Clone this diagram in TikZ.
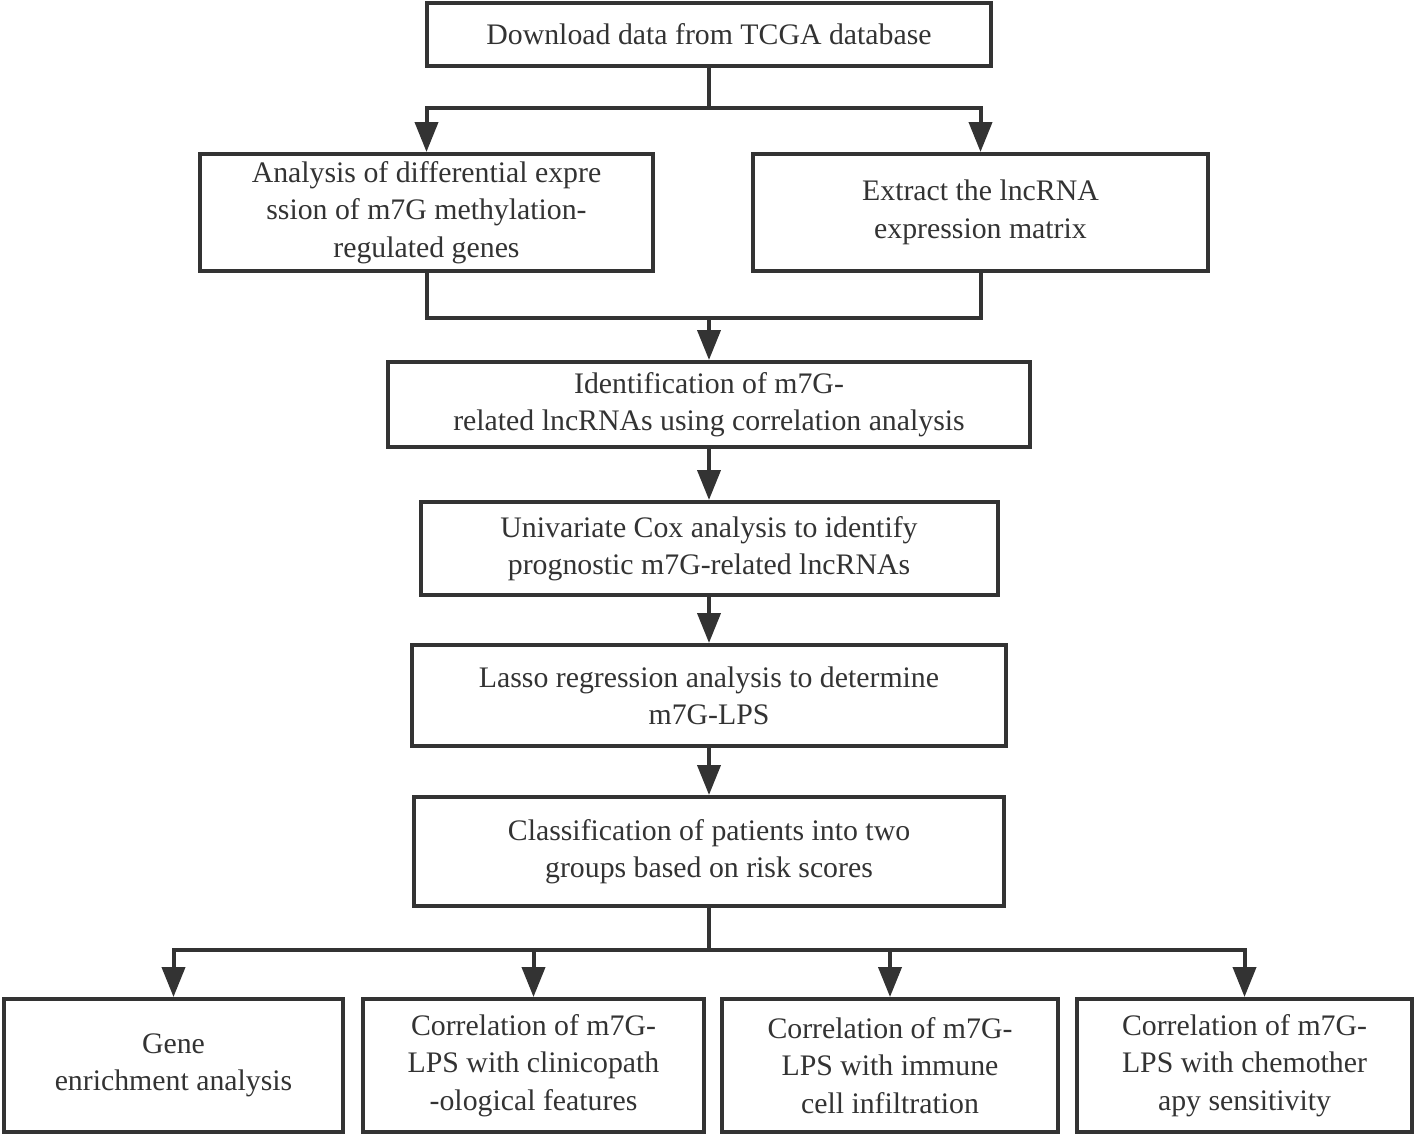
\documentclass[tikz,border=0pt]{standalone}
\usepackage{fontspec}
\setmainfont{Liberation Serif}
\usetikzlibrary{arrows.meta}
\definecolor{trait}{RGB}{51,51,51}

\begin{document}
\begin{tikzpicture}[
    x=0.5pt, y=-0.5pt,
    text = trait,
    process/.style={draw=trait, line width=2pt, align=center, font=\fontsize{14.9}{18.7}\selectfont, inner sep=0pt},
    flow/.style={draw=trait, line width=2pt},
    arrow/.style={flow, -{Triangle[length=15pt, width=11.5pt]}}
    ]

   \useasboundingbox (0,0) rectangle (1416,1136);

   \node [process, minimum width=282pt, minimum height=31.5pt] (tcga) at (709,34.5) {Download data from TCGA database};
   \node [process, minimum width=226.5pt, minimum height=58.5pt] (diff) at (426.5,212.5) {Analysis of differential expre\\ ssion of m7G methylation-\\ regulated genes};
   \node [process, minimum width=227.5pt, minimum height=58.5pt] (matrix) at (980.5,212.5) {Extract the lncRNA\\ expression matrix};
   \node [process, minimum width=321pt, minimum height=42.5pt] (corr) at (709,404.5) {Identification of m7G-\\ related lncRNAs using correlation analysis};
   \node [process, minimum width=288.5pt, minimum height=46.5pt] (cox) at (709,548.5) {Univariate Cox analysis to identify\\ prognostic m7G-related lncRNAs};
   \node [process, minimum width=297pt, minimum height=50.5pt] (lasso) at (709,695.5) {Lasso regression analysis to determine\\ m7G-LPS};
   \node [process, minimum width=295pt, minimum height=54.5pt] (risk) at (709,851.5) {Classification of patients into two\\ groups based on risk scores};

   % bottom row
   \node [process, minimum width=169.5pt, minimum height=66.5pt] (gene) at (173.5,1065.5) {Gene\\ enrichment analysis};
   \node [process, minimum width=170.5pt, minimum height=66.5pt] (clin) at (533.5,1065.5) {Correlation of m7G-\\ LPS with clinicopath\\ -ological features};
   \node [process, minimum width=168pt, minimum height=66.5pt] (immune) at (890,1065.5) {Correlation of m7G-\\ LPS with immune\\ cell infiltration};
   \node [process, minimum width=167.5pt, minimum height=66.5pt] (chemo) at (1244.5,1065.5) {Correlation of m7G-\\ LPS with chemother\\ apy sensitivity};

   \coordinate (split) at (709,108);
   \coordinate (merge) at (709,318);
   \coordinate (fan) at (709,950);

   \draw [flow] (tcga.south) -- (split);
   \draw [arrow] (split) -| (diff.north);
   \draw [arrow] (split) -| (matrix.north);
   \draw [flow] (diff.south) |- (merge);
   \draw [flow] (matrix.south) |- (merge);
   \draw [arrow] (merge) -- (corr.north);
   \draw [arrow] (corr.south) -- (cox.north);
   \draw [arrow] (cox.south) -- (lasso.north);
   \draw [arrow] (lasso.south) -- (risk.north);
   \draw [flow] (risk.south) -- (fan);
   \draw [arrow] (fan) -| (gene.north);
   \draw [arrow] (fan) -| (clin.north);
   \draw [arrow] (fan) -| (immune.north);
   \draw [arrow] (fan) -| (chemo.north);
\end{tikzpicture}
\end{document}
